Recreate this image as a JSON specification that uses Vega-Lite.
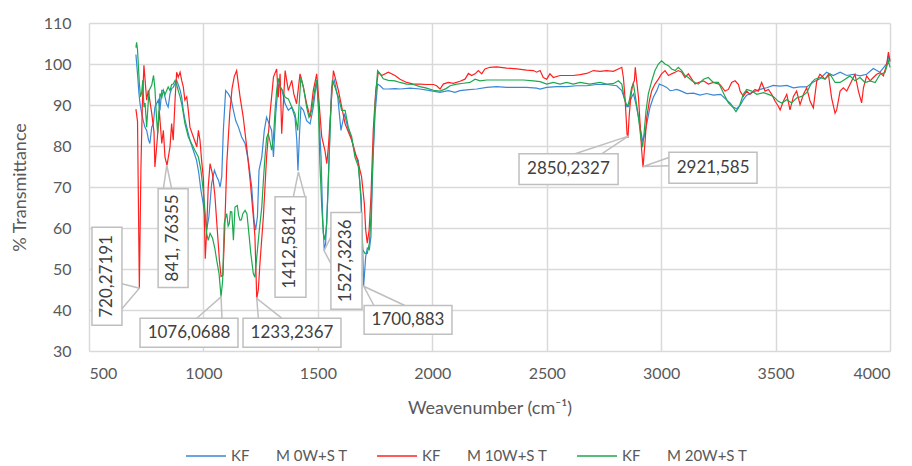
{
  "$schema": "https://vega.github.io/schema/vega-lite/v6.json",
  "autosize": "none",
  "width": 801,
  "height": 328,
  "padding": {"left": 89, "top": 23, "right": 22, "bottom": 115},
  "background": "white",
  "config": {
    "view": {"stroke": null},
    "font": "Lato",
    "axis": {
      "grid": true, "gridColor": "#d9d9d9", "gridWidth": 1.5,
      "domain": false, "ticks": false,
      "labelFont": "Lato", "labelFontSize": 16, "labelColor": "#595959",
      "titleFont": "Lato", "titleFontSize": 18, "titleColor": "#595959", "titleFontWeight": "normal"
    },
    "legend": {"labelFont": "Lato", "labelFontSize": 15, "labelColor": "#595959"}
  },
  "datasets": {
    "spec": [
      {"s":"KF\u00a0\u00a0\u00a0\u00a0 M 0W+S T","wn":705,"t":102.3},{"s":"KF\u00a0\u00a0\u00a0\u00a0 M 0W+S T","wn":712,"t":97.6},{"s":"KF\u00a0\u00a0\u00a0\u00a0 M 0W+S T","wn":718,"t":93},{"s":"KF\u00a0\u00a0\u00a0\u00a0 M 0W+S T","wn":723,"t":90.3},{"s":"KF\u00a0\u00a0\u00a0\u00a0 M 0W+S T","wn":730,"t":88},{"s":"KF\u00a0\u00a0\u00a0\u00a0 M 0W+S T","wn":737,"t":86.2},{"s":"KF\u00a0\u00a0\u00a0\u00a0 M 0W+S T","wn":745,"t":84.5},{"s":"KF\u00a0\u00a0\u00a0\u00a0 M 0W+S T","wn":752,"t":83.8},{"s":"KF\u00a0\u00a0\u00a0\u00a0 M 0W+S T","wn":760,"t":81.5},{"s":"KF\u00a0\u00a0\u00a0\u00a0 M 0W+S T","wn":766,"t":80.6},{"s":"KF\u00a0\u00a0\u00a0\u00a0 M 0W+S T","wn":774,"t":84.6},{"s":"KF\u00a0\u00a0\u00a0\u00a0 M 0W+S T","wn":781,"t":85.4},{"s":"KF\u00a0\u00a0\u00a0\u00a0 M 0W+S T","wn":788,"t":89.5},{"s":"KF\u00a0\u00a0\u00a0\u00a0 M 0W+S T","wn":795,"t":90.3},{"s":"KF\u00a0\u00a0\u00a0\u00a0 M 0W+S T","wn":803,"t":91.2},{"s":"KF\u00a0\u00a0\u00a0\u00a0 M 0W+S T","wn":810,"t":88.7},{"s":"KF\u00a0\u00a0\u00a0\u00a0 M 0W+S T","wn":818,"t":93.6},{"s":"KF\u00a0\u00a0\u00a0\u00a0 M 0W+S T","wn":825,"t":93.5},{"s":"KF\u00a0\u00a0\u00a0\u00a0 M 0W+S T","wn":832,"t":92},{"s":"KF\u00a0\u00a0\u00a0\u00a0 M 0W+S T","wn":839,"t":90.3},{"s":"KF\u00a0\u00a0\u00a0\u00a0 M 0W+S T","wn":846,"t":89.5},{"s":"KF\u00a0\u00a0\u00a0\u00a0 M 0W+S T","wn":854,"t":92.7},{"s":"KF\u00a0\u00a0\u00a0\u00a0 M 0W+S T","wn":861,"t":94},{"s":"KF\u00a0\u00a0\u00a0\u00a0 M 0W+S T","wn":868,"t":94.3},{"s":"KF\u00a0\u00a0\u00a0\u00a0 M 0W+S T","wn":876,"t":95.2},{"s":"KF\u00a0\u00a0\u00a0\u00a0 M 0W+S T","wn":883,"t":96},{"s":"KF\u00a0\u00a0\u00a0\u00a0 M 0W+S T","wn":890,"t":95},{"s":"KF\u00a0\u00a0\u00a0\u00a0 M 0W+S T","wn":898,"t":93.6},{"s":"KF\u00a0\u00a0\u00a0\u00a0 M 0W+S T","wn":905,"t":91.9},{"s":"KF\u00a0\u00a0\u00a0\u00a0 M 0W+S T","wn":912,"t":88.7},{"s":"KF\u00a0\u00a0\u00a0\u00a0 M 0W+S T","wn":919,"t":86.5},{"s":"KF\u00a0\u00a0\u00a0\u00a0 M 0W+S T","wn":927,"t":84.6},{"s":"KF\u00a0\u00a0\u00a0\u00a0 M 0W+S T","wn":934,"t":83},{"s":"KF\u00a0\u00a0\u00a0\u00a0 M 0W+S T","wn":941,"t":81.4},{"s":"KF\u00a0\u00a0\u00a0\u00a0 M 0W+S T","wn":956,"t":78.9},{"s":"KF\u00a0\u00a0\u00a0\u00a0 M 0W+S T","wn":970,"t":76.5},{"s":"KF\u00a0\u00a0\u00a0\u00a0 M 0W+S T","wn":980,"t":73.3},{"s":"KF\u00a0\u00a0\u00a0\u00a0 M 0W+S T","wn":989,"t":69.2},{"s":"KF\u00a0\u00a0\u00a0\u00a0 M 0W+S T","wn":999,"t":66},{"s":"KF\u00a0\u00a0\u00a0\u00a0 M 0W+S T","wn":1007,"t":62.8},{"s":"KF\u00a0\u00a0\u00a0\u00a0 M 0W+S T","wn":1014,"t":59.5},{"s":"KF\u00a0\u00a0\u00a0\u00a0 M 0W+S T","wn":1024,"t":62.8},{"s":"KF\u00a0\u00a0\u00a0\u00a0 M 0W+S T","wn":1036,"t":70.9},{"s":"KF\u00a0\u00a0\u00a0\u00a0 M 0W+S T","wn":1048,"t":74.1},{"s":"KF\u00a0\u00a0\u00a0\u00a0 M 0W+S T","wn":1058,"t":72.5},{"s":"KF\u00a0\u00a0\u00a0\u00a0 M 0W+S T","wn":1066,"t":71.6},{"s":"KF\u00a0\u00a0\u00a0\u00a0 M 0W+S T","wn":1073,"t":70},{"s":"KF\u00a0\u00a0\u00a0\u00a0 M 0W+S T","wn":1080,"t":72.5},{"s":"KF\u00a0\u00a0\u00a0\u00a0 M 0W+S T","wn":1087,"t":83.8},{"s":"KF\u00a0\u00a0\u00a0\u00a0 M 0W+S T","wn":1097,"t":93.5},{"s":"KF\u00a0\u00a0\u00a0\u00a0 M 0W+S T","wn":1109,"t":92.7},{"s":"KF\u00a0\u00a0\u00a0\u00a0 M 0W+S T","wn":1121,"t":91.5},{"s":"KF\u00a0\u00a0\u00a0\u00a0 M 0W+S T","wn":1131,"t":88.7},{"s":"KF\u00a0\u00a0\u00a0\u00a0 M 0W+S T","wn":1141,"t":86.2},{"s":"KF\u00a0\u00a0\u00a0\u00a0 M 0W+S T","wn":1153,"t":84.6},{"s":"KF\u00a0\u00a0\u00a0\u00a0 M 0W+S T","wn":1167,"t":82.2},{"s":"KF\u00a0\u00a0\u00a0\u00a0 M 0W+S T","wn":1182,"t":80.6},{"s":"KF\u00a0\u00a0\u00a0\u00a0 M 0W+S T","wn":1196,"t":76.5},{"s":"KF\u00a0\u00a0\u00a0\u00a0 M 0W+S T","wn":1211,"t":70},{"s":"KF\u00a0\u00a0\u00a0\u00a0 M 0W+S T","wn":1221,"t":61.9},{"s":"KF\u00a0\u00a0\u00a0\u00a0 M 0W+S T","wn":1228,"t":59.5},{"s":"KF\u00a0\u00a0\u00a0\u00a0 M 0W+S T","wn":1236,"t":62.8},{"s":"KF\u00a0\u00a0\u00a0\u00a0 M 0W+S T","wn":1243,"t":74.1},{"s":"KF\u00a0\u00a0\u00a0\u00a0 M 0W+S T","wn":1255,"t":77.3},{"s":"KF\u00a0\u00a0\u00a0\u00a0 M 0W+S T","wn":1266,"t":83.8},{"s":"KF\u00a0\u00a0\u00a0\u00a0 M 0W+S T","wn":1276,"t":87},{"s":"KF\u00a0\u00a0\u00a0\u00a0 M 0W+S T","wn":1287,"t":85.4},{"s":"KF\u00a0\u00a0\u00a0\u00a0 M 0W+S T","wn":1298,"t":83.8},{"s":"KF\u00a0\u00a0\u00a0\u00a0 M 0W+S T","wn":1306,"t":77.3},{"s":"KF\u00a0\u00a0\u00a0\u00a0 M 0W+S T","wn":1316,"t":87.9},{"s":"KF\u00a0\u00a0\u00a0\u00a0 M 0W+S T","wn":1327,"t":95.1},{"s":"KF\u00a0\u00a0\u00a0\u00a0 M 0W+S T","wn":1342,"t":93.9},{"s":"KF\u00a0\u00a0\u00a0\u00a0 M 0W+S T","wn":1357,"t":90.3},{"s":"KF\u00a0\u00a0\u00a0\u00a0 M 0W+S T","wn":1371,"t":88.7},{"s":"KF\u00a0\u00a0\u00a0\u00a0 M 0W+S T","wn":1386,"t":89.5},{"s":"KF\u00a0\u00a0\u00a0\u00a0 M 0W+S T","wn":1400,"t":87},{"s":"KF\u00a0\u00a0\u00a0\u00a0 M 0W+S T","wn":1408,"t":81.4},{"s":"KF\u00a0\u00a0\u00a0\u00a0 M 0W+S T","wn":1413,"t":74},{"s":"KF\u00a0\u00a0\u00a0\u00a0 M 0W+S T","wn":1419,"t":82},{"s":"KF\u00a0\u00a0\u00a0\u00a0 M 0W+S T","wn":1426,"t":89.5},{"s":"KF\u00a0\u00a0\u00a0\u00a0 M 0W+S T","wn":1437,"t":88.7},{"s":"KF\u00a0\u00a0\u00a0\u00a0 M 0W+S T","wn":1451,"t":86.2},{"s":"KF\u00a0\u00a0\u00a0\u00a0 M 0W+S T","wn":1466,"t":85.4},{"s":"KF\u00a0\u00a0\u00a0\u00a0 M 0W+S T","wn":1480,"t":89.5},{"s":"KF\u00a0\u00a0\u00a0\u00a0 M 0W+S T","wn":1495,"t":96},{"s":"KF\u00a0\u00a0\u00a0\u00a0 M 0W+S T","wn":1502,"t":90.3},{"s":"KF\u00a0\u00a0\u00a0\u00a0 M 0W+S T","wn":1514,"t":77.3},{"s":"KF\u00a0\u00a0\u00a0\u00a0 M 0W+S T","wn":1521,"t":62.8},{"s":"KF\u00a0\u00a0\u00a0\u00a0 M 0W+S T","wn":1528,"t":54.5},{"s":"KF\u00a0\u00a0\u00a0\u00a0 M 0W+S T","wn":1534,"t":56.3},{"s":"KF\u00a0\u00a0\u00a0\u00a0 M 0W+S T","wn":1543,"t":67.6},{"s":"KF\u00a0\u00a0\u00a0\u00a0 M 0W+S T","wn":1553,"t":83.8},{"s":"KF\u00a0\u00a0\u00a0\u00a0 M 0W+S T","wn":1560,"t":94.3},{"s":"KF\u00a0\u00a0\u00a0\u00a0 M 0W+S T","wn":1572,"t":96},{"s":"KF\u00a0\u00a0\u00a0\u00a0 M 0W+S T","wn":1587,"t":91.9},{"s":"KF\u00a0\u00a0\u00a0\u00a0 M 0W+S T","wn":1601,"t":83.8},{"s":"KF\u00a0\u00a0\u00a0\u00a0 M 0W+S T","wn":1616,"t":87.9},{"s":"KF\u00a0\u00a0\u00a0\u00a0 M 0W+S T","wn":1630,"t":84.6},{"s":"KF\u00a0\u00a0\u00a0\u00a0 M 0W+S T","wn":1645,"t":82.2},{"s":"KF\u00a0\u00a0\u00a0\u00a0 M 0W+S T","wn":1662,"t":78.1},{"s":"KF\u00a0\u00a0\u00a0\u00a0 M 0W+S T","wn":1677,"t":76.5},{"s":"KF\u00a0\u00a0\u00a0\u00a0 M 0W+S T","wn":1689,"t":66},{"s":"KF\u00a0\u00a0\u00a0\u00a0 M 0W+S T","wn":1696,"t":54.7},{"s":"KF\u00a0\u00a0\u00a0\u00a0 M 0W+S T","wn":1700,"t":45.8},{"s":"KF\u00a0\u00a0\u00a0\u00a0 M 0W+S T","wn":1709,"t":53},{"s":"KF\u00a0\u00a0\u00a0\u00a0 M 0W+S T","wn":1716,"t":55.1},{"s":"KF\u00a0\u00a0\u00a0\u00a0 M 0W+S T","wn":1725,"t":54.7},{"s":"KF\u00a0\u00a0\u00a0\u00a0 M 0W+S T","wn":1732,"t":57.9},{"s":"KF\u00a0\u00a0\u00a0\u00a0 M 0W+S T","wn":1740,"t":75.7},{"s":"KF\u00a0\u00a0\u00a0\u00a0 M 0W+S T","wn":1750,"t":87.9},{"s":"KF\u00a0\u00a0\u00a0\u00a0 M 0W+S T","wn":1761,"t":95.1},{"s":"KF\u00a0\u00a0\u00a0\u00a0 M 0W+S T","wn":1772,"t":94.7},{"s":"KF\u00a0\u00a0\u00a0\u00a0 M 0W+S T","wn":1786,"t":93.9},{"s":"KF\u00a0\u00a0\u00a0\u00a0 M 0W+S T","wn":1808,"t":93.9},{"s":"KF\u00a0\u00a0\u00a0\u00a0 M 0W+S T","wn":1837,"t":94},{"s":"KF\u00a0\u00a0\u00a0\u00a0 M 0W+S T","wn":1859,"t":93.9},{"s":"KF\u00a0\u00a0\u00a0\u00a0 M 0W+S T","wn":1903,"t":94.1},{"s":"KF\u00a0\u00a0\u00a0\u00a0 M 0W+S T","wn":1946,"t":93.9},{"s":"KF\u00a0\u00a0\u00a0\u00a0 M 0W+S T","wn":1990,"t":93.5},{"s":"KF\u00a0\u00a0\u00a0\u00a0 M 0W+S T","wn":2034,"t":93.1},{"s":"KF\u00a0\u00a0\u00a0\u00a0 M 0W+S T","wn":2070,"t":93.5},{"s":"KF\u00a0\u00a0\u00a0\u00a0 M 0W+S T","wn":2099,"t":93.1},{"s":"KF\u00a0\u00a0\u00a0\u00a0 M 0W+S T","wn":2121,"t":93.5},{"s":"KF\u00a0\u00a0\u00a0\u00a0 M 0W+S T","wn":2150,"t":93.7},{"s":"KF\u00a0\u00a0\u00a0\u00a0 M 0W+S T","wn":2194,"t":93.9},{"s":"KF\u00a0\u00a0\u00a0\u00a0 M 0W+S T","wn":2238,"t":94.3},{"s":"KF\u00a0\u00a0\u00a0\u00a0 M 0W+S T","wn":2281,"t":94.5},{"s":"KF\u00a0\u00a0\u00a0\u00a0 M 0W+S T","wn":2325,"t":94.3},{"s":"KF\u00a0\u00a0\u00a0\u00a0 M 0W+S T","wn":2369,"t":94.3},{"s":"KF\u00a0\u00a0\u00a0\u00a0 M 0W+S T","wn":2412,"t":94.3},{"s":"KF\u00a0\u00a0\u00a0\u00a0 M 0W+S T","wn":2456,"t":94.1},{"s":"KF\u00a0\u00a0\u00a0\u00a0 M 0W+S T","wn":2471,"t":93.9},{"s":"KF\u00a0\u00a0\u00a0\u00a0 M 0W+S T","wn":2500,"t":94.3},{"s":"KF\u00a0\u00a0\u00a0\u00a0 M 0W+S T","wn":2544,"t":94.5},{"s":"KF\u00a0\u00a0\u00a0\u00a0 M 0W+S T","wn":2587,"t":94.5},{"s":"KF\u00a0\u00a0\u00a0\u00a0 M 0W+S T","wn":2631,"t":94.7},{"s":"KF\u00a0\u00a0\u00a0\u00a0 M 0W+S T","wn":2675,"t":94.7},{"s":"KF\u00a0\u00a0\u00a0\u00a0 M 0W+S T","wn":2718,"t":95},{"s":"KF\u00a0\u00a0\u00a0\u00a0 M 0W+S T","wn":2762,"t":95},{"s":"KF\u00a0\u00a0\u00a0\u00a0 M 0W+S T","wn":2806,"t":94.7},{"s":"KF\u00a0\u00a0\u00a0\u00a0 M 0W+S T","wn":2828,"t":93.5},{"s":"KF\u00a0\u00a0\u00a0\u00a0 M 0W+S T","wn":2842,"t":91.1},{"s":"KF\u00a0\u00a0\u00a0\u00a0 M 0W+S T","wn":2850,"t":89.6},{"s":"KF\u00a0\u00a0\u00a0\u00a0 M 0W+S T","wn":2857,"t":89.6},{"s":"KF\u00a0\u00a0\u00a0\u00a0 M 0W+S T","wn":2865,"t":91},{"s":"KF\u00a0\u00a0\u00a0\u00a0 M 0W+S T","wn":2871,"t":91.9},{"s":"KF\u00a0\u00a0\u00a0\u00a0 M 0W+S T","wn":2879,"t":92.7},{"s":"KF\u00a0\u00a0\u00a0\u00a0 M 0W+S T","wn":2890,"t":90.2},{"s":"KF\u00a0\u00a0\u00a0\u00a0 M 0W+S T","wn":2901,"t":87},{"s":"KF\u00a0\u00a0\u00a0\u00a0 M 0W+S T","wn":2911,"t":83.7},{"s":"KF\u00a0\u00a0\u00a0\u00a0 M 0W+S T","wn":2919,"t":81.3},{"s":"KF\u00a0\u00a0\u00a0\u00a0 M 0W+S T","wn":2925,"t":82.1},{"s":"KF\u00a0\u00a0\u00a0\u00a0 M 0W+S T","wn":2937,"t":85.4},{"s":"KF\u00a0\u00a0\u00a0\u00a0 M 0W+S T","wn":2951,"t":89.4},{"s":"KF\u00a0\u00a0\u00a0\u00a0 M 0W+S T","wn":2966,"t":91.9},{"s":"KF\u00a0\u00a0\u00a0\u00a0 M 0W+S T","wn":2981,"t":93.5},{"s":"KF\u00a0\u00a0\u00a0\u00a0 M 0W+S T","wn":2992,"t":95.1},{"s":"KF\u00a0\u00a0\u00a0\u00a0 M 0W+S T","wn":3010,"t":94.7},{"s":"KF\u00a0\u00a0\u00a0\u00a0 M 0W+S T","wn":3024,"t":94.3},{"s":"KF\u00a0\u00a0\u00a0\u00a0 M 0W+S T","wn":3039,"t":93.5},{"s":"KF\u00a0\u00a0\u00a0\u00a0 M 0W+S T","wn":3052,"t":93.6},{"s":"KF\u00a0\u00a0\u00a0\u00a0 M 0W+S T","wn":3068,"t":93.8},{"s":"KF\u00a0\u00a0\u00a0\u00a0 M 0W+S T","wn":3083,"t":93.5},{"s":"KF\u00a0\u00a0\u00a0\u00a0 M 0W+S T","wn":3112,"t":92.8},{"s":"KF\u00a0\u00a0\u00a0\u00a0 M 0W+S T","wn":3141,"t":92.9},{"s":"KF\u00a0\u00a0\u00a0\u00a0 M 0W+S T","wn":3170,"t":92.4},{"s":"KF\u00a0\u00a0\u00a0\u00a0 M 0W+S T","wn":3199,"t":92.8},{"s":"KF\u00a0\u00a0\u00a0\u00a0 M 0W+S T","wn":3228,"t":92.4},{"s":"KF\u00a0\u00a0\u00a0\u00a0 M 0W+S T","wn":3260,"t":92.6},{"s":"KF\u00a0\u00a0\u00a0\u00a0 M 0W+S T","wn":3287,"t":91.2},{"s":"KF\u00a0\u00a0\u00a0\u00a0 M 0W+S T","wn":3301,"t":90.5},{"s":"KF\u00a0\u00a0\u00a0\u00a0 M 0W+S T","wn":3315,"t":89.5},{"s":"KF\u00a0\u00a0\u00a0\u00a0 M 0W+S T","wn":3330,"t":89.1},{"s":"KF\u00a0\u00a0\u00a0\u00a0 M 0W+S T","wn":3345,"t":89.9},{"s":"KF\u00a0\u00a0\u00a0\u00a0 M 0W+S T","wn":3359,"t":91.3},{"s":"KF\u00a0\u00a0\u00a0\u00a0 M 0W+S T","wn":3374,"t":92.4},{"s":"KF\u00a0\u00a0\u00a0\u00a0 M 0W+S T","wn":3403,"t":93.2},{"s":"KF\u00a0\u00a0\u00a0\u00a0 M 0W+S T","wn":3432,"t":93.8},{"s":"KF\u00a0\u00a0\u00a0\u00a0 M 0W+S T","wn":3461,"t":94.2},{"s":"KF\u00a0\u00a0\u00a0\u00a0 M 0W+S T","wn":3490,"t":94.8},{"s":"KF\u00a0\u00a0\u00a0\u00a0 M 0W+S T","wn":3519,"t":94.6},{"s":"KF\u00a0\u00a0\u00a0\u00a0 M 0W+S T","wn":3549,"t":94.8},{"s":"KF\u00a0\u00a0\u00a0\u00a0 M 0W+S T","wn":3578,"t":94.2},{"s":"KF\u00a0\u00a0\u00a0\u00a0 M 0W+S T","wn":3607,"t":94.4},{"s":"KF\u00a0\u00a0\u00a0\u00a0 M 0W+S T","wn":3636,"t":94.4},{"s":"KF\u00a0\u00a0\u00a0\u00a0 M 0W+S T","wn":3665,"t":95.6},{"s":"KF\u00a0\u00a0\u00a0\u00a0 M 0W+S T","wn":3694,"t":96.4},{"s":"KF\u00a0\u00a0\u00a0\u00a0 M 0W+S T","wn":3723,"t":98},{"s":"KF\u00a0\u00a0\u00a0\u00a0 M 0W+S T","wn":3752,"t":97.2},{"s":"KF\u00a0\u00a0\u00a0\u00a0 M 0W+S T","wn":3782,"t":98},{"s":"KF\u00a0\u00a0\u00a0\u00a0 M 0W+S T","wn":3811,"t":97.2},{"s":"KF\u00a0\u00a0\u00a0\u00a0 M 0W+S T","wn":3840,"t":97.5},{"s":"KF\u00a0\u00a0\u00a0\u00a0 M 0W+S T","wn":3869,"t":97.1},{"s":"KF\u00a0\u00a0\u00a0\u00a0 M 0W+S T","wn":3898,"t":97.5},{"s":"KF\u00a0\u00a0\u00a0\u00a0 M 0W+S T","wn":3927,"t":98.9},{"s":"KF\u00a0\u00a0\u00a0\u00a0 M 0W+S T","wn":3956,"t":98},{"s":"KF\u00a0\u00a0\u00a0\u00a0 M 0W+S T","wn":3986,"t":100.1},{"s":"KF\u00a0\u00a0\u00a0\u00a0 M 0W+S T","wn":3993,"t":102},{"s":"KF\u00a0\u00a0\u00a0\u00a0 M 0W+S T","wn":4000,"t":100.5},

      {"s":"KF\u00a0\u00a0\u00a0\u00a0 M 10W+S T","wn":705,"t":89},{"s":"KF\u00a0\u00a0\u00a0\u00a0 M 10W+S T","wn":712,"t":86},{"s":"KF\u00a0\u00a0\u00a0\u00a0 M 10W+S T","wn":720,"t":45.3},{"s":"KF\u00a0\u00a0\u00a0\u00a0 M 10W+S T","wn":727,"t":75},{"s":"KF\u00a0\u00a0\u00a0\u00a0 M 10W+S T","wn":733,"t":90},{"s":"KF\u00a0\u00a0\u00a0\u00a0 M 10W+S T","wn":740,"t":99.7},{"s":"KF\u00a0\u00a0\u00a0\u00a0 M 10W+S T","wn":752,"t":91.2},{"s":"KF\u00a0\u00a0\u00a0\u00a0 M 10W+S T","wn":759,"t":93.6},{"s":"KF\u00a0\u00a0\u00a0\u00a0 M 10W+S T","wn":774,"t":88},{"s":"KF\u00a0\u00a0\u00a0\u00a0 M 10W+S T","wn":784,"t":83.4},{"s":"KF\u00a0\u00a0\u00a0\u00a0 M 10W+S T","wn":788,"t":74.9},{"s":"KF\u00a0\u00a0\u00a0\u00a0 M 10W+S T","wn":798,"t":81.4},{"s":"KF\u00a0\u00a0\u00a0\u00a0 M 10W+S T","wn":807,"t":88.7},{"s":"KF\u00a0\u00a0\u00a0\u00a0 M 10W+S T","wn":818,"t":80.6},{"s":"KF\u00a0\u00a0\u00a0\u00a0 M 10W+S T","wn":825,"t":83.8},{"s":"KF\u00a0\u00a0\u00a0\u00a0 M 10W+S T","wn":832,"t":77.3},{"s":"KF\u00a0\u00a0\u00a0\u00a0 M 10W+S T","wn":841,"t":75.3},{"s":"KF\u00a0\u00a0\u00a0\u00a0 M 10W+S T","wn":854,"t":79.8},{"s":"KF\u00a0\u00a0\u00a0\u00a0 M 10W+S T","wn":861,"t":85.5},{"s":"KF\u00a0\u00a0\u00a0\u00a0 M 10W+S T","wn":868,"t":81.4},{"s":"KF\u00a0\u00a0\u00a0\u00a0 M 10W+S T","wn":876,"t":91.2},{"s":"KF\u00a0\u00a0\u00a0\u00a0 M 10W+S T","wn":883,"t":98},{"s":"KF\u00a0\u00a0\u00a0\u00a0 M 10W+S T","wn":890,"t":96.8},{"s":"KF\u00a0\u00a0\u00a0\u00a0 M 10W+S T","wn":898,"t":98},{"s":"KF\u00a0\u00a0\u00a0\u00a0 M 10W+S T","wn":905,"t":96},{"s":"KF\u00a0\u00a0\u00a0\u00a0 M 10W+S T","wn":912,"t":94.4},{"s":"KF\u00a0\u00a0\u00a0\u00a0 M 10W+S T","wn":919,"t":91.2},{"s":"KF\u00a0\u00a0\u00a0\u00a0 M 10W+S T","wn":927,"t":92},{"s":"KF\u00a0\u00a0\u00a0\u00a0 M 10W+S T","wn":934,"t":88.7},{"s":"KF\u00a0\u00a0\u00a0\u00a0 M 10W+S T","wn":941,"t":84.6},{"s":"KF\u00a0\u00a0\u00a0\u00a0 M 10W+S T","wn":956,"t":82.2},{"s":"KF\u00a0\u00a0\u00a0\u00a0 M 10W+S T","wn":971,"t":79.8},{"s":"KF\u00a0\u00a0\u00a0\u00a0 M 10W+S T","wn":978,"t":83.8},{"s":"KF\u00a0\u00a0\u00a0\u00a0 M 10W+S T","wn":985,"t":81.4},{"s":"KF\u00a0\u00a0\u00a0\u00a0 M 10W+S T","wn":992,"t":76.5},{"s":"KF\u00a0\u00a0\u00a0\u00a0 M 10W+S T","wn":1000,"t":72},{"s":"KF\u00a0\u00a0\u00a0\u00a0 M 10W+S T","wn":1005,"t":60},{"s":"KF\u00a0\u00a0\u00a0\u00a0 M 10W+S T","wn":1008,"t":52.5},{"s":"KF\u00a0\u00a0\u00a0\u00a0 M 10W+S T","wn":1013,"t":58},{"s":"KF\u00a0\u00a0\u00a0\u00a0 M 10W+S T","wn":1021,"t":70},{"s":"KF\u00a0\u00a0\u00a0\u00a0 M 10W+S T","wn":1029,"t":75.7},{"s":"KF\u00a0\u00a0\u00a0\u00a0 M 10W+S T","wn":1040,"t":73},{"s":"KF\u00a0\u00a0\u00a0\u00a0 M 10W+S T","wn":1050,"t":68},{"s":"KF\u00a0\u00a0\u00a0\u00a0 M 10W+S T","wn":1060,"t":60},{"s":"KF\u00a0\u00a0\u00a0\u00a0 M 10W+S T","wn":1070,"t":52},{"s":"KF\u00a0\u00a0\u00a0\u00a0 M 10W+S T","wn":1077,"t":48.2},{"s":"KF\u00a0\u00a0\u00a0\u00a0 M 10W+S T","wn":1085,"t":48.5},{"s":"KF\u00a0\u00a0\u00a0\u00a0 M 10W+S T","wn":1092,"t":58},{"s":"KF\u00a0\u00a0\u00a0\u00a0 M 10W+S T","wn":1102,"t":75.7},{"s":"KF\u00a0\u00a0\u00a0\u00a0 M 10W+S T","wn":1115,"t":88},{"s":"KF\u00a0\u00a0\u00a0\u00a0 M 10W+S T","wn":1125,"t":94},{"s":"KF\u00a0\u00a0\u00a0\u00a0 M 10W+S T","wn":1135,"t":97},{"s":"KF\u00a0\u00a0\u00a0\u00a0 M 10W+S T","wn":1145,"t":98.4},{"s":"KF\u00a0\u00a0\u00a0\u00a0 M 10W+S T","wn":1160,"t":92},{"s":"KF\u00a0\u00a0\u00a0\u00a0 M 10W+S T","wn":1174,"t":87},{"s":"KF\u00a0\u00a0\u00a0\u00a0 M 10W+S T","wn":1189,"t":79.8},{"s":"KF\u00a0\u00a0\u00a0\u00a0 M 10W+S T","wn":1204,"t":71.7},{"s":"KF\u00a0\u00a0\u00a0\u00a0 M 10W+S T","wn":1218,"t":62.8},{"s":"KF\u00a0\u00a0\u00a0\u00a0 M 10W+S T","wn":1225,"t":57.9},{"s":"KF\u00a0\u00a0\u00a0\u00a0 M 10W+S T","wn":1233,"t":42.8},{"s":"KF\u00a0\u00a0\u00a0\u00a0 M 10W+S T","wn":1240,"t":45},{"s":"KF\u00a0\u00a0\u00a0\u00a0 M 10W+S T","wn":1247,"t":51.4},{"s":"KF\u00a0\u00a0\u00a0\u00a0 M 10W+S T","wn":1262,"t":62.8},{"s":"KF\u00a0\u00a0\u00a0\u00a0 M 10W+S T","wn":1276,"t":77.3},{"s":"KF\u00a0\u00a0\u00a0\u00a0 M 10W+S T","wn":1291,"t":87.9},{"s":"KF\u00a0\u00a0\u00a0\u00a0 M 10W+S T","wn":1306,"t":96.8},{"s":"KF\u00a0\u00a0\u00a0\u00a0 M 10W+S T","wn":1320,"t":98.8},{"s":"KF\u00a0\u00a0\u00a0\u00a0 M 10W+S T","wn":1327,"t":91.9},{"s":"KF\u00a0\u00a0\u00a0\u00a0 M 10W+S T","wn":1335,"t":97.6},{"s":"KF\u00a0\u00a0\u00a0\u00a0 M 10W+S T","wn":1342,"t":83},{"s":"KF\u00a0\u00a0\u00a0\u00a0 M 10W+S T","wn":1357,"t":98.4},{"s":"KF\u00a0\u00a0\u00a0\u00a0 M 10W+S T","wn":1371,"t":93.5},{"s":"KF\u00a0\u00a0\u00a0\u00a0 M 10W+S T","wn":1386,"t":96},{"s":"KF\u00a0\u00a0\u00a0\u00a0 M 10W+S T","wn":1395,"t":92.7},{"s":"KF\u00a0\u00a0\u00a0\u00a0 M 10W+S T","wn":1407,"t":90.3},{"s":"KF\u00a0\u00a0\u00a0\u00a0 M 10W+S T","wn":1422,"t":97.6},{"s":"KF\u00a0\u00a0\u00a0\u00a0 M 10W+S T","wn":1437,"t":94.3},{"s":"KF\u00a0\u00a0\u00a0\u00a0 M 10W+S T","wn":1451,"t":90.3},{"s":"KF\u00a0\u00a0\u00a0\u00a0 M 10W+S T","wn":1466,"t":87},{"s":"KF\u00a0\u00a0\u00a0\u00a0 M 10W+S T","wn":1480,"t":93.5},{"s":"KF\u00a0\u00a0\u00a0\u00a0 M 10W+S T","wn":1495,"t":97.6},{"s":"KF\u00a0\u00a0\u00a0\u00a0 M 10W+S T","wn":1509,"t":87.9},{"s":"KF\u00a0\u00a0\u00a0\u00a0 M 10W+S T","wn":1517,"t":82.2},{"s":"KF\u00a0\u00a0\u00a0\u00a0 M 10W+S T","wn":1531,"t":78.9},{"s":"KF\u00a0\u00a0\u00a0\u00a0 M 10W+S T","wn":1539,"t":75.7},{"s":"KF\u00a0\u00a0\u00a0\u00a0 M 10W+S T","wn":1546,"t":79.8},{"s":"KF\u00a0\u00a0\u00a0\u00a0 M 10W+S T","wn":1560,"t":91.9},{"s":"KF\u00a0\u00a0\u00a0\u00a0 M 10W+S T","wn":1568,"t":98.4},{"s":"KF\u00a0\u00a0\u00a0\u00a0 M 10W+S T","wn":1590,"t":93.5},{"s":"KF\u00a0\u00a0\u00a0\u00a0 M 10W+S T","wn":1619,"t":85.4},{"s":"KF\u00a0\u00a0\u00a0\u00a0 M 10W+S T","wn":1648,"t":81.4},{"s":"KF\u00a0\u00a0\u00a0\u00a0 M 10W+S T","wn":1677,"t":75.7},{"s":"KF\u00a0\u00a0\u00a0\u00a0 M 10W+S T","wn":1691,"t":72.5},{"s":"KF\u00a0\u00a0\u00a0\u00a0 M 10W+S T","wn":1703,"t":66},{"s":"KF\u00a0\u00a0\u00a0\u00a0 M 10W+S T","wn":1709,"t":59.5},{"s":"KF\u00a0\u00a0\u00a0\u00a0 M 10W+S T","wn":1716,"t":56.3},{"s":"KF\u00a0\u00a0\u00a0\u00a0 M 10W+S T","wn":1724,"t":59.5},{"s":"KF\u00a0\u00a0\u00a0\u00a0 M 10W+S T","wn":1732,"t":67.6},{"s":"KF\u00a0\u00a0\u00a0\u00a0 M 10W+S T","wn":1742,"t":83.8},{"s":"KF\u00a0\u00a0\u00a0\u00a0 M 10W+S T","wn":1753,"t":93.5},{"s":"KF\u00a0\u00a0\u00a0\u00a0 M 10W+S T","wn":1764,"t":98},{"s":"KF\u00a0\u00a0\u00a0\u00a0 M 10W+S T","wn":1779,"t":97.2},{"s":"KF\u00a0\u00a0\u00a0\u00a0 M 10W+S T","wn":1808,"t":98},{"s":"KF\u00a0\u00a0\u00a0\u00a0 M 10W+S T","wn":1837,"t":97.2},{"s":"KF\u00a0\u00a0\u00a0\u00a0 M 10W+S T","wn":1859,"t":96.3},{"s":"KF\u00a0\u00a0\u00a0\u00a0 M 10W+S T","wn":1888,"t":95.5},{"s":"KF\u00a0\u00a0\u00a0\u00a0 M 10W+S T","wn":1917,"t":95.1},{"s":"KF\u00a0\u00a0\u00a0\u00a0 M 10W+S T","wn":1946,"t":95.1},{"s":"KF\u00a0\u00a0\u00a0\u00a0 M 10W+S T","wn":1976,"t":95},{"s":"KF\u00a0\u00a0\u00a0\u00a0 M 10W+S T","wn":2005,"t":95},{"s":"KF\u00a0\u00a0\u00a0\u00a0 M 10W+S T","wn":2019,"t":94.7},{"s":"KF\u00a0\u00a0\u00a0\u00a0 M 10W+S T","wn":2034,"t":93.9},{"s":"KF\u00a0\u00a0\u00a0\u00a0 M 10W+S T","wn":2048,"t":95.1},{"s":"KF\u00a0\u00a0\u00a0\u00a0 M 10W+S T","wn":2070,"t":95.5},{"s":"KF\u00a0\u00a0\u00a0\u00a0 M 10W+S T","wn":2092,"t":95.3},{"s":"KF\u00a0\u00a0\u00a0\u00a0 M 10W+S T","wn":2121,"t":95.8},{"s":"KF\u00a0\u00a0\u00a0\u00a0 M 10W+S T","wn":2143,"t":96.3},{"s":"KF\u00a0\u00a0\u00a0\u00a0 M 10W+S T","wn":2158,"t":97.7},{"s":"KF\u00a0\u00a0\u00a0\u00a0 M 10W+S T","wn":2172,"t":97.2},{"s":"KF\u00a0\u00a0\u00a0\u00a0 M 10W+S T","wn":2187,"t":97.6},{"s":"KF\u00a0\u00a0\u00a0\u00a0 M 10W+S T","wn":2201,"t":98.4},{"s":"KF\u00a0\u00a0\u00a0\u00a0 M 10W+S T","wn":2216,"t":97.6},{"s":"KF\u00a0\u00a0\u00a0\u00a0 M 10W+S T","wn":2230,"t":98.8},{"s":"KF\u00a0\u00a0\u00a0\u00a0 M 10W+S T","wn":2252,"t":99.2},{"s":"KF\u00a0\u00a0\u00a0\u00a0 M 10W+S T","wn":2281,"t":99.3},{"s":"KF\u00a0\u00a0\u00a0\u00a0 M 10W+S T","wn":2325,"t":99},{"s":"KF\u00a0\u00a0\u00a0\u00a0 M 10W+S T","wn":2369,"t":98.8},{"s":"KF\u00a0\u00a0\u00a0\u00a0 M 10W+S T","wn":2412,"t":98.5},{"s":"KF\u00a0\u00a0\u00a0\u00a0 M 10W+S T","wn":2442,"t":98.4},{"s":"KF\u00a0\u00a0\u00a0\u00a0 M 10W+S T","wn":2456,"t":98},{"s":"KF\u00a0\u00a0\u00a0\u00a0 M 10W+S T","wn":2471,"t":98.4},{"s":"KF\u00a0\u00a0\u00a0\u00a0 M 10W+S T","wn":2485,"t":96.7},{"s":"KF\u00a0\u00a0\u00a0\u00a0 M 10W+S T","wn":2500,"t":96.3},{"s":"KF\u00a0\u00a0\u00a0\u00a0 M 10W+S T","wn":2514,"t":97.6},{"s":"KF\u00a0\u00a0\u00a0\u00a0 M 10W+S T","wn":2529,"t":96.7},{"s":"KF\u00a0\u00a0\u00a0\u00a0 M 10W+S T","wn":2558,"t":97.2},{"s":"KF\u00a0\u00a0\u00a0\u00a0 M 10W+S T","wn":2587,"t":97.2},{"s":"KF\u00a0\u00a0\u00a0\u00a0 M 10W+S T","wn":2616,"t":97.2},{"s":"KF\u00a0\u00a0\u00a0\u00a0 M 10W+S T","wn":2646,"t":97.4},{"s":"KF\u00a0\u00a0\u00a0\u00a0 M 10W+S T","wn":2675,"t":97.7},{"s":"KF\u00a0\u00a0\u00a0\u00a0 M 10W+S T","wn":2704,"t":98.4},{"s":"KF\u00a0\u00a0\u00a0\u00a0 M 10W+S T","wn":2733,"t":98.2},{"s":"KF\u00a0\u00a0\u00a0\u00a0 M 10W+S T","wn":2762,"t":98.4},{"s":"KF\u00a0\u00a0\u00a0\u00a0 M 10W+S T","wn":2791,"t":98.2},{"s":"KF\u00a0\u00a0\u00a0\u00a0 M 10W+S T","wn":2813,"t":98.8},{"s":"KF\u00a0\u00a0\u00a0\u00a0 M 10W+S T","wn":2828,"t":99.2},{"s":"KF\u00a0\u00a0\u00a0\u00a0 M 10W+S T","wn":2835,"t":96.7},{"s":"KF\u00a0\u00a0\u00a0\u00a0 M 10W+S T","wn":2842,"t":91.9},{"s":"KF\u00a0\u00a0\u00a0\u00a0 M 10W+S T","wn":2847,"t":87},{"s":"KF\u00a0\u00a0\u00a0\u00a0 M 10W+S T","wn":2851,"t":82.9},{"s":"KF\u00a0\u00a0\u00a0\u00a0 M 10W+S T","wn":2855,"t":82},{"s":"KF\u00a0\u00a0\u00a0\u00a0 M 10W+S T","wn":2860,"t":87},{"s":"KF\u00a0\u00a0\u00a0\u00a0 M 10W+S T","wn":2867,"t":91.9},{"s":"KF\u00a0\u00a0\u00a0\u00a0 M 10W+S T","wn":2876,"t":95.1},{"s":"KF\u00a0\u00a0\u00a0\u00a0 M 10W+S T","wn":2883,"t":95.9},{"s":"KF\u00a0\u00a0\u00a0\u00a0 M 10W+S T","wn":2887,"t":99.2},{"s":"KF\u00a0\u00a0\u00a0\u00a0 M 10W+S T","wn":2893,"t":95.9},{"s":"KF\u00a0\u00a0\u00a0\u00a0 M 10W+S T","wn":2901,"t":91.9},{"s":"KF\u00a0\u00a0\u00a0\u00a0 M 10W+S T","wn":2908,"t":85.4},{"s":"KF\u00a0\u00a0\u00a0\u00a0 M 10W+S T","wn":2915,"t":78.9},{"s":"KF\u00a0\u00a0\u00a0\u00a0 M 10W+S T","wn":2921,"t":74.8},{"s":"KF\u00a0\u00a0\u00a0\u00a0 M 10W+S T","wn":2930,"t":81.3},{"s":"KF\u00a0\u00a0\u00a0\u00a0 M 10W+S T","wn":2937,"t":87},{"s":"KF\u00a0\u00a0\u00a0\u00a0 M 10W+S T","wn":2949,"t":91.1},{"s":"KF\u00a0\u00a0\u00a0\u00a0 M 10W+S T","wn":2959,"t":93.5},{"s":"KF\u00a0\u00a0\u00a0\u00a0 M 10W+S T","wn":2973,"t":95.1},{"s":"KF\u00a0\u00a0\u00a0\u00a0 M 10W+S T","wn":2988,"t":96.3},{"s":"KF\u00a0\u00a0\u00a0\u00a0 M 10W+S T","wn":3002,"t":97.6},{"s":"KF\u00a0\u00a0\u00a0\u00a0 M 10W+S T","wn":3017,"t":98.4},{"s":"KF\u00a0\u00a0\u00a0\u00a0 M 10W+S T","wn":3032,"t":97.2},{"s":"KF\u00a0\u00a0\u00a0\u00a0 M 10W+S T","wn":3046,"t":97.6},{"s":"KF\u00a0\u00a0\u00a0\u00a0 M 10W+S T","wn":3061,"t":98},{"s":"KF\u00a0\u00a0\u00a0\u00a0 M 10W+S T","wn":3075,"t":98.4},{"s":"KF\u00a0\u00a0\u00a0\u00a0 M 10W+S T","wn":3090,"t":98},{"s":"KF\u00a0\u00a0\u00a0\u00a0 M 10W+S T","wn":3104,"t":96.7},{"s":"KF\u00a0\u00a0\u00a0\u00a0 M 10W+S T","wn":3119,"t":97.6},{"s":"KF\u00a0\u00a0\u00a0\u00a0 M 10W+S T","wn":3134,"t":96.3},{"s":"KF\u00a0\u00a0\u00a0\u00a0 M 10W+S T","wn":3148,"t":95.1},{"s":"KF\u00a0\u00a0\u00a0\u00a0 M 10W+S T","wn":3163,"t":95.5},{"s":"KF\u00a0\u00a0\u00a0\u00a0 M 10W+S T","wn":3185,"t":95.9},{"s":"KF\u00a0\u00a0\u00a0\u00a0 M 10W+S T","wn":3206,"t":95.1},{"s":"KF\u00a0\u00a0\u00a0\u00a0 M 10W+S T","wn":3228,"t":95.5},{"s":"KF\u00a0\u00a0\u00a0\u00a0 M 10W+S T","wn":3257,"t":95},{"s":"KF\u00a0\u00a0\u00a0\u00a0 M 10W+S T","wn":3279,"t":93.4},{"s":"KF\u00a0\u00a0\u00a0\u00a0 M 10W+S T","wn":3294,"t":93.8},{"s":"KF\u00a0\u00a0\u00a0\u00a0 M 10W+S T","wn":3308,"t":95.5},{"s":"KF\u00a0\u00a0\u00a0\u00a0 M 10W+S T","wn":3323,"t":95.9},{"s":"KF\u00a0\u00a0\u00a0\u00a0 M 10W+S T","wn":3338,"t":95},{"s":"KF\u00a0\u00a0\u00a0\u00a0 M 10W+S T","wn":3345,"t":93.4},{"s":"KF\u00a0\u00a0\u00a0\u00a0 M 10W+S T","wn":3359,"t":92.1},{"s":"KF\u00a0\u00a0\u00a0\u00a0 M 10W+S T","wn":3374,"t":93.4},{"s":"KF\u00a0\u00a0\u00a0\u00a0 M 10W+S T","wn":3388,"t":92.6},{"s":"KF\u00a0\u00a0\u00a0\u00a0 M 10W+S T","wn":3410,"t":93.8},{"s":"KF\u00a0\u00a0\u00a0\u00a0 M 10W+S T","wn":3425,"t":93.4},{"s":"KF\u00a0\u00a0\u00a0\u00a0 M 10W+S T","wn":3439,"t":95.5},{"s":"KF\u00a0\u00a0\u00a0\u00a0 M 10W+S T","wn":3454,"t":93.4},{"s":"KF\u00a0\u00a0\u00a0\u00a0 M 10W+S T","wn":3469,"t":93.8},{"s":"KF\u00a0\u00a0\u00a0\u00a0 M 10W+S T","wn":3483,"t":92.6},{"s":"KF\u00a0\u00a0\u00a0\u00a0 M 10W+S T","wn":3498,"t":90.9},{"s":"KF\u00a0\u00a0\u00a0\u00a0 M 10W+S T","wn":3512,"t":89.7},{"s":"KF\u00a0\u00a0\u00a0\u00a0 M 10W+S T","wn":3520,"t":88.8},{"s":"KF\u00a0\u00a0\u00a0\u00a0 M 10W+S T","wn":3534,"t":90.9},{"s":"KF\u00a0\u00a0\u00a0\u00a0 M 10W+S T","wn":3549,"t":92.6},{"s":"KF\u00a0\u00a0\u00a0\u00a0 M 10W+S T","wn":3563,"t":88.8},{"s":"KF\u00a0\u00a0\u00a0\u00a0 M 10W+S T","wn":3578,"t":92.1},{"s":"KF\u00a0\u00a0\u00a0\u00a0 M 10W+S T","wn":3592,"t":93.4},{"s":"KF\u00a0\u00a0\u00a0\u00a0 M 10W+S T","wn":3607,"t":90.1},{"s":"KF\u00a0\u00a0\u00a0\u00a0 M 10W+S T","wn":3622,"t":92.6},{"s":"KF\u00a0\u00a0\u00a0\u00a0 M 10W+S T","wn":3636,"t":94.2},{"s":"KF\u00a0\u00a0\u00a0\u00a0 M 10W+S T","wn":3651,"t":90.9},{"s":"KF\u00a0\u00a0\u00a0\u00a0 M 10W+S T","wn":3665,"t":89.3},{"s":"KF\u00a0\u00a0\u00a0\u00a0 M 10W+S T","wn":3680,"t":95.9},{"s":"KF\u00a0\u00a0\u00a0\u00a0 M 10W+S T","wn":3694,"t":97.5},{"s":"KF\u00a0\u00a0\u00a0\u00a0 M 10W+S T","wn":3716,"t":96.3},{"s":"KF\u00a0\u00a0\u00a0\u00a0 M 10W+S T","wn":3731,"t":97.5},{"s":"KF\u00a0\u00a0\u00a0\u00a0 M 10W+S T","wn":3745,"t":91.7},{"s":"KF\u00a0\u00a0\u00a0\u00a0 M 10W+S T","wn":3760,"t":88},{"s":"KF\u00a0\u00a0\u00a0\u00a0 M 10W+S T","wn":3767,"t":88.8},{"s":"KF\u00a0\u00a0\u00a0\u00a0 M 10W+S T","wn":3782,"t":93.4},{"s":"KF\u00a0\u00a0\u00a0\u00a0 M 10W+S T","wn":3796,"t":94.2},{"s":"KF\u00a0\u00a0\u00a0\u00a0 M 10W+S T","wn":3811,"t":93.4},{"s":"KF\u00a0\u00a0\u00a0\u00a0 M 10W+S T","wn":3833,"t":95.9},{"s":"KF\u00a0\u00a0\u00a0\u00a0 M 10W+S T","wn":3847,"t":97.5},{"s":"KF\u00a0\u00a0\u00a0\u00a0 M 10W+S T","wn":3862,"t":93.4},{"s":"KF\u00a0\u00a0\u00a0\u00a0 M 10W+S T","wn":3876,"t":90.5},{"s":"KF\u00a0\u00a0\u00a0\u00a0 M 10W+S T","wn":3884,"t":94.2},{"s":"KF\u00a0\u00a0\u00a0\u00a0 M 10W+S T","wn":3898,"t":97.1},{"s":"KF\u00a0\u00a0\u00a0\u00a0 M 10W+S T","wn":3913,"t":95.9},{"s":"KF\u00a0\u00a0\u00a0\u00a0 M 10W+S T","wn":3927,"t":96.7},{"s":"KF\u00a0\u00a0\u00a0\u00a0 M 10W+S T","wn":3942,"t":97.5},{"s":"KF\u00a0\u00a0\u00a0\u00a0 M 10W+S T","wn":3957,"t":97.9},{"s":"KF\u00a0\u00a0\u00a0\u00a0 M 10W+S T","wn":3971,"t":97.1},{"s":"KF\u00a0\u00a0\u00a0\u00a0 M 10W+S T","wn":3986,"t":100},{"s":"KF\u00a0\u00a0\u00a0\u00a0 M 10W+S T","wn":3993,"t":102.9},{"s":"KF\u00a0\u00a0\u00a0\u00a0 M 10W+S T","wn":4000,"t":100.8},

      {"s":"KF\u00a0\u00a0\u00a0\u00a0 M 20W+S T","wn":705,"t":104},{"s":"KF\u00a0\u00a0\u00a0\u00a0 M 20W+S T","wn":708,"t":105.3},{"s":"KF\u00a0\u00a0\u00a0\u00a0 M 20W+S T","wn":712,"t":103.5},{"s":"KF\u00a0\u00a0\u00a0\u00a0 M 20W+S T","wn":716,"t":99.3},{"s":"KF\u00a0\u00a0\u00a0\u00a0 M 20W+S T","wn":720,"t":95.3},{"s":"KF\u00a0\u00a0\u00a0\u00a0 M 20W+S T","wn":725,"t":92},{"s":"KF\u00a0\u00a0\u00a0\u00a0 M 20W+S T","wn":730,"t":93},{"s":"KF\u00a0\u00a0\u00a0\u00a0 M 20W+S T","wn":735,"t":96},{"s":"KF\u00a0\u00a0\u00a0\u00a0 M 20W+S T","wn":740,"t":89.5},{"s":"KF\u00a0\u00a0\u00a0\u00a0 M 20W+S T","wn":745,"t":90.5},{"s":"KF\u00a0\u00a0\u00a0\u00a0 M 20W+S T","wn":752,"t":84.6},{"s":"KF\u00a0\u00a0\u00a0\u00a0 M 20W+S T","wn":758,"t":90},{"s":"KF\u00a0\u00a0\u00a0\u00a0 M 20W+S T","wn":763,"t":93.6},{"s":"KF\u00a0\u00a0\u00a0\u00a0 M 20W+S T","wn":774,"t":94.8},{"s":"KF\u00a0\u00a0\u00a0\u00a0 M 20W+S T","wn":782,"t":97.2},{"s":"KF\u00a0\u00a0\u00a0\u00a0 M 20W+S T","wn":788,"t":94},{"s":"KF\u00a0\u00a0\u00a0\u00a0 M 20W+S T","wn":795,"t":87},{"s":"KF\u00a0\u00a0\u00a0\u00a0 M 20W+S T","wn":800,"t":83},{"s":"KF\u00a0\u00a0\u00a0\u00a0 M 20W+S T","wn":810,"t":92.8},{"s":"KF\u00a0\u00a0\u00a0\u00a0 M 20W+S T","wn":818,"t":91.8},{"s":"KF\u00a0\u00a0\u00a0\u00a0 M 20W+S T","wn":825,"t":93.6},{"s":"KF\u00a0\u00a0\u00a0\u00a0 M 20W+S T","wn":832,"t":92.5},{"s":"KF\u00a0\u00a0\u00a0\u00a0 M 20W+S T","wn":839,"t":93.5},{"s":"KF\u00a0\u00a0\u00a0\u00a0 M 20W+S T","wn":846,"t":94.4},{"s":"KF\u00a0\u00a0\u00a0\u00a0 M 20W+S T","wn":854,"t":93.5},{"s":"KF\u00a0\u00a0\u00a0\u00a0 M 20W+S T","wn":861,"t":95},{"s":"KF\u00a0\u00a0\u00a0\u00a0 M 20W+S T","wn":868,"t":95.1},{"s":"KF\u00a0\u00a0\u00a0\u00a0 M 20W+S T","wn":876,"t":96},{"s":"KF\u00a0\u00a0\u00a0\u00a0 M 20W+S T","wn":883,"t":95},{"s":"KF\u00a0\u00a0\u00a0\u00a0 M 20W+S T","wn":890,"t":93.5},{"s":"KF\u00a0\u00a0\u00a0\u00a0 M 20W+S T","wn":898,"t":92},{"s":"KF\u00a0\u00a0\u00a0\u00a0 M 20W+S T","wn":905,"t":90.3},{"s":"KF\u00a0\u00a0\u00a0\u00a0 M 20W+S T","wn":912,"t":88},{"s":"KF\u00a0\u00a0\u00a0\u00a0 M 20W+S T","wn":919,"t":85.5},{"s":"KF\u00a0\u00a0\u00a0\u00a0 M 20W+S T","wn":934,"t":82.2},{"s":"KF\u00a0\u00a0\u00a0\u00a0 M 20W+S T","wn":948,"t":80.6},{"s":"KF\u00a0\u00a0\u00a0\u00a0 M 20W+S T","wn":963,"t":78.9},{"s":"KF\u00a0\u00a0\u00a0\u00a0 M 20W+S T","wn":978,"t":77.3},{"s":"KF\u00a0\u00a0\u00a0\u00a0 M 20W+S T","wn":989,"t":74.1},{"s":"KF\u00a0\u00a0\u00a0\u00a0 M 20W+S T","wn":999,"t":69.2},{"s":"KF\u00a0\u00a0\u00a0\u00a0 M 20W+S T","wn":1007,"t":64},{"s":"KF\u00a0\u00a0\u00a0\u00a0 M 20W+S T","wn":1014,"t":58.7},{"s":"KF\u00a0\u00a0\u00a0\u00a0 M 20W+S T","wn":1021,"t":57},{"s":"KF\u00a0\u00a0\u00a0\u00a0 M 20W+S T","wn":1029,"t":58.7},{"s":"KF\u00a0\u00a0\u00a0\u00a0 M 20W+S T","wn":1040,"t":57.5},{"s":"KF\u00a0\u00a0\u00a0\u00a0 M 20W+S T","wn":1050,"t":55},{"s":"KF\u00a0\u00a0\u00a0\u00a0 M 20W+S T","wn":1058,"t":52.1},{"s":"KF\u00a0\u00a0\u00a0\u00a0 M 20W+S T","wn":1068,"t":49},{"s":"KF\u00a0\u00a0\u00a0\u00a0 M 20W+S T","wn":1077,"t":43.2},{"s":"KF\u00a0\u00a0\u00a0\u00a0 M 20W+S T","wn":1084,"t":47.2},{"s":"KF\u00a0\u00a0\u00a0\u00a0 M 20W+S T","wn":1091,"t":61},{"s":"KF\u00a0\u00a0\u00a0\u00a0 M 20W+S T","wn":1094,"t":62},{"s":"KF\u00a0\u00a0\u00a0\u00a0 M 20W+S T","wn":1102,"t":63.5},{"s":"KF\u00a0\u00a0\u00a0\u00a0 M 20W+S T","wn":1108,"t":60.5},{"s":"KF\u00a0\u00a0\u00a0\u00a0 M 20W+S T","wn":1113,"t":61.1},{"s":"KF\u00a0\u00a0\u00a0\u00a0 M 20W+S T","wn":1118,"t":64},{"s":"KF\u00a0\u00a0\u00a0\u00a0 M 20W+S T","wn":1124,"t":63.9},{"s":"KF\u00a0\u00a0\u00a0\u00a0 M 20W+S T","wn":1131,"t":57},{"s":"KF\u00a0\u00a0\u00a0\u00a0 M 20W+S T","wn":1138,"t":65.1},{"s":"KF\u00a0\u00a0\u00a0\u00a0 M 20W+S T","wn":1148,"t":65.5},{"s":"KF\u00a0\u00a0\u00a0\u00a0 M 20W+S T","wn":1154,"t":63},{"s":"KF\u00a0\u00a0\u00a0\u00a0 M 20W+S T","wn":1160,"t":61.9},{"s":"KF\u00a0\u00a0\u00a0\u00a0 M 20W+S T","wn":1166,"t":62},{"s":"KF\u00a0\u00a0\u00a0\u00a0 M 20W+S T","wn":1172,"t":63.5},{"s":"KF\u00a0\u00a0\u00a0\u00a0 M 20W+S T","wn":1182,"t":64.3},{"s":"KF\u00a0\u00a0\u00a0\u00a0 M 20W+S T","wn":1190,"t":63.5},{"s":"KF\u00a0\u00a0\u00a0\u00a0 M 20W+S T","wn":1196,"t":60.2},{"s":"KF\u00a0\u00a0\u00a0\u00a0 M 20W+S T","wn":1207,"t":53.8},{"s":"KF\u00a0\u00a0\u00a0\u00a0 M 20W+S T","wn":1218,"t":48.9},{"s":"KF\u00a0\u00a0\u00a0\u00a0 M 20W+S T","wn":1225,"t":48},{"s":"KF\u00a0\u00a0\u00a0\u00a0 M 20W+S T","wn":1233,"t":52.9},{"s":"KF\u00a0\u00a0\u00a0\u00a0 M 20W+S T","wn":1244,"t":59.4},{"s":"KF\u00a0\u00a0\u00a0\u00a0 M 20W+S T","wn":1255,"t":65.1},{"s":"KF\u00a0\u00a0\u00a0\u00a0 M 20W+S T","wn":1262,"t":71.6},{"s":"KF\u00a0\u00a0\u00a0\u00a0 M 20W+S T","wn":1269,"t":77.3},{"s":"KF\u00a0\u00a0\u00a0\u00a0 M 20W+S T","wn":1276,"t":82},{"s":"KF\u00a0\u00a0\u00a0\u00a0 M 20W+S T","wn":1283,"t":83},{"s":"KF\u00a0\u00a0\u00a0\u00a0 M 20W+S T","wn":1290,"t":81.4},{"s":"KF\u00a0\u00a0\u00a0\u00a0 M 20W+S T","wn":1298,"t":79},{"s":"KF\u00a0\u00a0\u00a0\u00a0 M 20W+S T","wn":1306,"t":82},{"s":"KF\u00a0\u00a0\u00a0\u00a0 M 20W+S T","wn":1313,"t":88.7},{"s":"KF\u00a0\u00a0\u00a0\u00a0 M 20W+S T","wn":1320,"t":93.6},{"s":"KF\u00a0\u00a0\u00a0\u00a0 M 20W+S T","wn":1327,"t":96.5},{"s":"KF\u00a0\u00a0\u00a0\u00a0 M 20W+S T","wn":1335,"t":94.4},{"s":"KF\u00a0\u00a0\u00a0\u00a0 M 20W+S T","wn":1345,"t":93.6},{"s":"KF\u00a0\u00a0\u00a0\u00a0 M 20W+S T","wn":1357,"t":91.9},{"s":"KF\u00a0\u00a0\u00a0\u00a0 M 20W+S T","wn":1371,"t":91.5},{"s":"KF\u00a0\u00a0\u00a0\u00a0 M 20W+S T","wn":1386,"t":89.5},{"s":"KF\u00a0\u00a0\u00a0\u00a0 M 20W+S T","wn":1400,"t":87.9},{"s":"KF\u00a0\u00a0\u00a0\u00a0 M 20W+S T","wn":1412,"t":83.8},{"s":"KF\u00a0\u00a0\u00a0\u00a0 M 20W+S T","wn":1418,"t":90},{"s":"KF\u00a0\u00a0\u00a0\u00a0 M 20W+S T","wn":1426,"t":96.8},{"s":"KF\u00a0\u00a0\u00a0\u00a0 M 20W+S T","wn":1437,"t":94.3},{"s":"KF\u00a0\u00a0\u00a0\u00a0 M 20W+S T","wn":1451,"t":89.5},{"s":"KF\u00a0\u00a0\u00a0\u00a0 M 20W+S T","wn":1461,"t":87},{"s":"KF\u00a0\u00a0\u00a0\u00a0 M 20W+S T","wn":1473,"t":88.7},{"s":"KF\u00a0\u00a0\u00a0\u00a0 M 20W+S T","wn":1488,"t":94.3},{"s":"KF\u00a0\u00a0\u00a0\u00a0 M 20W+S T","wn":1495,"t":96},{"s":"KF\u00a0\u00a0\u00a0\u00a0 M 20W+S T","wn":1502,"t":90.3},{"s":"KF\u00a0\u00a0\u00a0\u00a0 M 20W+S T","wn":1509,"t":75.7},{"s":"KF\u00a0\u00a0\u00a0\u00a0 M 20W+S T","wn":1517,"t":65.2},{"s":"KF\u00a0\u00a0\u00a0\u00a0 M 20W+S T","wn":1524,"t":58.7},{"s":"KF\u00a0\u00a0\u00a0\u00a0 M 20W+S T","wn":1531,"t":57.1},{"s":"KF\u00a0\u00a0\u00a0\u00a0 M 20W+S T","wn":1539,"t":61.1},{"s":"KF\u00a0\u00a0\u00a0\u00a0 M 20W+S T","wn":1546,"t":71.7},{"s":"KF\u00a0\u00a0\u00a0\u00a0 M 20W+S T","wn":1556,"t":87.9},{"s":"KF\u00a0\u00a0\u00a0\u00a0 M 20W+S T","wn":1563,"t":96},{"s":"KF\u00a0\u00a0\u00a0\u00a0 M 20W+S T","wn":1575,"t":94.3},{"s":"KF\u00a0\u00a0\u00a0\u00a0 M 20W+S T","wn":1590,"t":91.9},{"s":"KF\u00a0\u00a0\u00a0\u00a0 M 20W+S T","wn":1604,"t":88.7},{"s":"KF\u00a0\u00a0\u00a0\u00a0 M 20W+S T","wn":1619,"t":88.7},{"s":"KF\u00a0\u00a0\u00a0\u00a0 M 20W+S T","wn":1633,"t":84.6},{"s":"KF\u00a0\u00a0\u00a0\u00a0 M 20W+S T","wn":1648,"t":82.2},{"s":"KF\u00a0\u00a0\u00a0\u00a0 M 20W+S T","wn":1662,"t":77.3},{"s":"KF\u00a0\u00a0\u00a0\u00a0 M 20W+S T","wn":1677,"t":74.9},{"s":"KF\u00a0\u00a0\u00a0\u00a0 M 20W+S T","wn":1689,"t":67.6},{"s":"KF\u00a0\u00a0\u00a0\u00a0 M 20W+S T","wn":1696,"t":54.7},{"s":"KF\u00a0\u00a0\u00a0\u00a0 M 20W+S T","wn":1706,"t":53.8},{"s":"KF\u00a0\u00a0\u00a0\u00a0 M 20W+S T","wn":1716,"t":53.8},{"s":"KF\u00a0\u00a0\u00a0\u00a0 M 20W+S T","wn":1725,"t":56.3},{"s":"KF\u00a0\u00a0\u00a0\u00a0 M 20W+S T","wn":1732,"t":62.8},{"s":"KF\u00a0\u00a0\u00a0\u00a0 M 20W+S T","wn":1740,"t":75.7},{"s":"KF\u00a0\u00a0\u00a0\u00a0 M 20W+S T","wn":1750,"t":90.3},{"s":"KF\u00a0\u00a0\u00a0\u00a0 M 20W+S T","wn":1761,"t":98.4},{"s":"KF\u00a0\u00a0\u00a0\u00a0 M 20W+S T","wn":1772,"t":97.6},{"s":"KF\u00a0\u00a0\u00a0\u00a0 M 20W+S T","wn":1786,"t":96.4},{"s":"KF\u00a0\u00a0\u00a0\u00a0 M 20W+S T","wn":1808,"t":96},{"s":"KF\u00a0\u00a0\u00a0\u00a0 M 20W+S T","wn":1837,"t":95.9},{"s":"KF\u00a0\u00a0\u00a0\u00a0 M 20W+S T","wn":1859,"t":95.5},{"s":"KF\u00a0\u00a0\u00a0\u00a0 M 20W+S T","wn":1888,"t":95.1},{"s":"KF\u00a0\u00a0\u00a0\u00a0 M 20W+S T","wn":1917,"t":95},{"s":"KF\u00a0\u00a0\u00a0\u00a0 M 20W+S T","wn":1946,"t":94.5},{"s":"KF\u00a0\u00a0\u00a0\u00a0 M 20W+S T","wn":1975,"t":94.1},{"s":"KF\u00a0\u00a0\u00a0\u00a0 M 20W+S T","wn":2005,"t":93.6},{"s":"KF\u00a0\u00a0\u00a0\u00a0 M 20W+S T","wn":2034,"t":93.4},{"s":"KF\u00a0\u00a0\u00a0\u00a0 M 20W+S T","wn":2060,"t":94},{"s":"KF\u00a0\u00a0\u00a0\u00a0 M 20W+S T","wn":2078,"t":94.7},{"s":"KF\u00a0\u00a0\u00a0\u00a0 M 20W+S T","wn":2107,"t":95.1},{"s":"KF\u00a0\u00a0\u00a0\u00a0 M 20W+S T","wn":2136,"t":95.3},{"s":"KF\u00a0\u00a0\u00a0\u00a0 M 20W+S T","wn":2165,"t":95.5},{"s":"KF\u00a0\u00a0\u00a0\u00a0 M 20W+S T","wn":2187,"t":96.3},{"s":"KF\u00a0\u00a0\u00a0\u00a0 M 20W+S T","wn":2209,"t":95.9},{"s":"KF\u00a0\u00a0\u00a0\u00a0 M 20W+S T","wn":2238,"t":96.1},{"s":"KF\u00a0\u00a0\u00a0\u00a0 M 20W+S T","wn":2281,"t":96.1},{"s":"KF\u00a0\u00a0\u00a0\u00a0 M 20W+S T","wn":2340,"t":96.1},{"s":"KF\u00a0\u00a0\u00a0\u00a0 M 20W+S T","wn":2398,"t":96.1},{"s":"KF\u00a0\u00a0\u00a0\u00a0 M 20W+S T","wn":2442,"t":95.9},{"s":"KF\u00a0\u00a0\u00a0\u00a0 M 20W+S T","wn":2471,"t":95.7},{"s":"KF\u00a0\u00a0\u00a0\u00a0 M 20W+S T","wn":2500,"t":95.1},{"s":"KF\u00a0\u00a0\u00a0\u00a0 M 20W+S T","wn":2529,"t":95.5},{"s":"KF\u00a0\u00a0\u00a0\u00a0 M 20W+S T","wn":2558,"t":95.1},{"s":"KF\u00a0\u00a0\u00a0\u00a0 M 20W+S T","wn":2587,"t":95.5},{"s":"KF\u00a0\u00a0\u00a0\u00a0 M 20W+S T","wn":2616,"t":95.1},{"s":"KF\u00a0\u00a0\u00a0\u00a0 M 20W+S T","wn":2646,"t":95.5},{"s":"KF\u00a0\u00a0\u00a0\u00a0 M 20W+S T","wn":2689,"t":95.1},{"s":"KF\u00a0\u00a0\u00a0\u00a0 M 20W+S T","wn":2733,"t":95.5},{"s":"KF\u00a0\u00a0\u00a0\u00a0 M 20W+S T","wn":2762,"t":95.1},{"s":"KF\u00a0\u00a0\u00a0\u00a0 M 20W+S T","wn":2791,"t":95.2},{"s":"KF\u00a0\u00a0\u00a0\u00a0 M 20W+S T","wn":2813,"t":95.9},{"s":"KF\u00a0\u00a0\u00a0\u00a0 M 20W+S T","wn":2828,"t":95.1},{"s":"KF\u00a0\u00a0\u00a0\u00a0 M 20W+S T","wn":2838,"t":91.9},{"s":"KF\u00a0\u00a0\u00a0\u00a0 M 20W+S T","wn":2847,"t":90.2},{"s":"KF\u00a0\u00a0\u00a0\u00a0 M 20W+S T","wn":2854,"t":89.8},{"s":"KF\u00a0\u00a0\u00a0\u00a0 M 20W+S T","wn":2861,"t":91.1},{"s":"KF\u00a0\u00a0\u00a0\u00a0 M 20W+S T","wn":2871,"t":94.3},{"s":"KF\u00a0\u00a0\u00a0\u00a0 M 20W+S T","wn":2879,"t":95.1},{"s":"KF\u00a0\u00a0\u00a0\u00a0 M 20W+S T","wn":2890,"t":91.1},{"s":"KF\u00a0\u00a0\u00a0\u00a0 M 20W+S T","wn":2901,"t":87},{"s":"KF\u00a0\u00a0\u00a0\u00a0 M 20W+S T","wn":2911,"t":82.1},{"s":"KF\u00a0\u00a0\u00a0\u00a0 M 20W+S T","wn":2919,"t":79.7},{"s":"KF\u00a0\u00a0\u00a0\u00a0 M 20W+S T","wn":2925,"t":82.9},{"s":"KF\u00a0\u00a0\u00a0\u00a0 M 20W+S T","wn":2934,"t":88.6},{"s":"KF\u00a0\u00a0\u00a0\u00a0 M 20W+S T","wn":2944,"t":92.7},{"s":"KF\u00a0\u00a0\u00a0\u00a0 M 20W+S T","wn":2959,"t":95.9},{"s":"KF\u00a0\u00a0\u00a0\u00a0 M 20W+S T","wn":2973,"t":98.4},{"s":"KF\u00a0\u00a0\u00a0\u00a0 M 20W+S T","wn":2988,"t":100},{"s":"KF\u00a0\u00a0\u00a0\u00a0 M 20W+S T","wn":3002,"t":100.8},{"s":"KF\u00a0\u00a0\u00a0\u00a0 M 20W+S T","wn":3017,"t":100},{"s":"KF\u00a0\u00a0\u00a0\u00a0 M 20W+S T","wn":3032,"t":99.6},{"s":"KF\u00a0\u00a0\u00a0\u00a0 M 20W+S T","wn":3046,"t":98.8},{"s":"KF\u00a0\u00a0\u00a0\u00a0 M 20W+S T","wn":3061,"t":98.4},{"s":"KF\u00a0\u00a0\u00a0\u00a0 M 20W+S T","wn":3075,"t":99.2},{"s":"KF\u00a0\u00a0\u00a0\u00a0 M 20W+S T","wn":3090,"t":98.4},{"s":"KF\u00a0\u00a0\u00a0\u00a0 M 20W+S T","wn":3104,"t":97.2},{"s":"KF\u00a0\u00a0\u00a0\u00a0 M 20W+S T","wn":3119,"t":96.7},{"s":"KF\u00a0\u00a0\u00a0\u00a0 M 20W+S T","wn":3134,"t":95.9},{"s":"KF\u00a0\u00a0\u00a0\u00a0 M 20W+S T","wn":3148,"t":95.5},{"s":"KF\u00a0\u00a0\u00a0\u00a0 M 20W+S T","wn":3163,"t":95.1},{"s":"KF\u00a0\u00a0\u00a0\u00a0 M 20W+S T","wn":3185,"t":96.3},{"s":"KF\u00a0\u00a0\u00a0\u00a0 M 20W+S T","wn":3206,"t":96.7},{"s":"KF\u00a0\u00a0\u00a0\u00a0 M 20W+S T","wn":3228,"t":95.5},{"s":"KF\u00a0\u00a0\u00a0\u00a0 M 20W+S T","wn":3250,"t":95.5},{"s":"KF\u00a0\u00a0\u00a0\u00a0 M 20W+S T","wn":3265,"t":93.8},{"s":"KF\u00a0\u00a0\u00a0\u00a0 M 20W+S T","wn":3279,"t":92.1},{"s":"KF\u00a0\u00a0\u00a0\u00a0 M 20W+S T","wn":3294,"t":90.5},{"s":"KF\u00a0\u00a0\u00a0\u00a0 M 20W+S T","wn":3316,"t":89.3},{"s":"KF\u00a0\u00a0\u00a0\u00a0 M 20W+S T","wn":3327,"t":88.4},{"s":"KF\u00a0\u00a0\u00a0\u00a0 M 20W+S T","wn":3342,"t":89.7},{"s":"KF\u00a0\u00a0\u00a0\u00a0 M 20W+S T","wn":3359,"t":92.6},{"s":"KF\u00a0\u00a0\u00a0\u00a0 M 20W+S T","wn":3374,"t":93.8},{"s":"KF\u00a0\u00a0\u00a0\u00a0 M 20W+S T","wn":3396,"t":93.4},{"s":"KF\u00a0\u00a0\u00a0\u00a0 M 20W+S T","wn":3418,"t":92.6},{"s":"KF\u00a0\u00a0\u00a0\u00a0 M 20W+S T","wn":3447,"t":93},{"s":"KF\u00a0\u00a0\u00a0\u00a0 M 20W+S T","wn":3469,"t":92.6},{"s":"KF\u00a0\u00a0\u00a0\u00a0 M 20W+S T","wn":3490,"t":92.1},{"s":"KF\u00a0\u00a0\u00a0\u00a0 M 20W+S T","wn":3512,"t":90.9},{"s":"KF\u00a0\u00a0\u00a0\u00a0 M 20W+S T","wn":3527,"t":90.5},{"s":"KF\u00a0\u00a0\u00a0\u00a0 M 20W+S T","wn":3549,"t":91.3},{"s":"KF\u00a0\u00a0\u00a0\u00a0 M 20W+S T","wn":3570,"t":90.5},{"s":"KF\u00a0\u00a0\u00a0\u00a0 M 20W+S T","wn":3592,"t":91.7},{"s":"KF\u00a0\u00a0\u00a0\u00a0 M 20W+S T","wn":3614,"t":92.1},{"s":"KF\u00a0\u00a0\u00a0\u00a0 M 20W+S T","wn":3636,"t":93},{"s":"KF\u00a0\u00a0\u00a0\u00a0 M 20W+S T","wn":3658,"t":95.5},{"s":"KF\u00a0\u00a0\u00a0\u00a0 M 20W+S T","wn":3672,"t":96.3},{"s":"KF\u00a0\u00a0\u00a0\u00a0 M 20W+S T","wn":3694,"t":96.7},{"s":"KF\u00a0\u00a0\u00a0\u00a0 M 20W+S T","wn":3716,"t":96.3},{"s":"KF\u00a0\u00a0\u00a0\u00a0 M 20W+S T","wn":3738,"t":97.5},{"s":"KF\u00a0\u00a0\u00a0\u00a0 M 20W+S T","wn":3760,"t":95.5},{"s":"KF\u00a0\u00a0\u00a0\u00a0 M 20W+S T","wn":3782,"t":95.5},{"s":"KF\u00a0\u00a0\u00a0\u00a0 M 20W+S T","wn":3804,"t":96.3},{"s":"KF\u00a0\u00a0\u00a0\u00a0 M 20W+S T","wn":3825,"t":97.1},{"s":"KF\u00a0\u00a0\u00a0\u00a0 M 20W+S T","wn":3847,"t":95.9},{"s":"KF\u00a0\u00a0\u00a0\u00a0 M 20W+S T","wn":3869,"t":96.7},{"s":"KF\u00a0\u00a0\u00a0\u00a0 M 20W+S T","wn":3891,"t":95.5},{"s":"KF\u00a0\u00a0\u00a0\u00a0 M 20W+S T","wn":3913,"t":95.9},{"s":"KF\u00a0\u00a0\u00a0\u00a0 M 20W+S T","wn":3935,"t":95.5},{"s":"KF\u00a0\u00a0\u00a0\u00a0 M 20W+S T","wn":3957,"t":97.5},{"s":"KF\u00a0\u00a0\u00a0\u00a0 M 20W+S T","wn":3978,"t":97.9},{"s":"KF\u00a0\u00a0\u00a0\u00a0 M 20W+S T","wn":3993,"t":100.8},{"s":"KF\u00a0\u00a0\u00a0\u00a0 M 20W+S T","wn":4000,"t":99.2}
    ],
    "wedges": [
      {"id":1,"k":1,"wn":644,"t":46.4},{"id":1,"k":2,"wn":720,"t":45.3},{"id":1,"k":3,"wn":644,"t":40.3},
      {"id":2,"k":1,"wn":825,"t":69.6},{"id":2,"k":2,"wn":840,"t":75.3},{"id":2,"k":3,"wn":861,"t":69.6},
      {"id":3,"k":1,"wn":971,"t":38.0},{"id":3,"k":2,"wn":1077,"t":43.2},{"id":3,"k":3,"wn":1081,"t":38.0},
      {"id":4,"k":1,"wn":1240,"t":38.0},{"id":4,"k":2,"wn":1233,"t":42.8},{"id":4,"k":3,"wn":1342,"t":38.0},
      {"id":5,"k":1,"wn":1393,"t":67.6},{"id":5,"k":2,"wn":1415,"t":73.7},{"id":5,"k":3,"wn":1444,"t":67.6},
      {"id":6,"k":1,"wn":1557,"t":57.8},{"id":6,"k":2,"wn":1527,"t":54.5},{"id":6,"k":3,"wn":1557,"t":51.3},
      {"id":7,"k":1,"wn":1745,"t":41.1},{"id":7,"k":2,"wn":1700,"t":45.8},{"id":7,"k":3,"wn":1880,"t":41.1},
      {"id":8,"k":1,"wn":2624,"t":78.1},{"id":8,"k":2,"wn":2857,"t":82.4},{"id":8,"k":3,"wn":2740,"t":78.1},
      {"id":9,"k":1,"wn":3034,"t":77.2},{"id":9,"k":2,"wn":2922,"t":75.0},{"id":9,"k":3,"wn":3034,"t":75.2}
    ],
    "notes": [
      {"label":"720,27191","dir":"v","x1":513,"x2":644,"y1":36.3,"y2":60.2,"tx":579,"ty":48.2},
      {"label":"841, 76355","dir":"v","x1":802,"x2":933,"y1":45.5,"y2":69.6,"tx":867,"ty":57.6},
      {"label":"1076,0688","dir":"h","x1":723,"x2":1151,"y1":30.9,"y2":38.0,"tx":937,"ty":34.4},
      {"label":"1233,2367","dir":"h","x1":1173,"x2":1601,"y1":30.9,"y2":38.0,"tx":1387,"ty":34.4},
      {"label":"1412,5814","dir":"v","x1":1313,"x2":1448,"y1":43.1,"y2":67.6,"tx":1380,"ty":55.3},
      {"label":"1527,3236","dir":"v","x1":1557,"x2":1693,"y1":40.2,"y2":63.8,"tx":1625,"ty":52.0},
      {"label":"1700,883","dir":"h","x1":1702,"x2":2086,"y1":34.1,"y2":41.1,"tx":1894,"ty":37.6},
      {"label":"2850,2327","dir":"h","x1":2379,"x2":2812,"y1":70.6,"y2":78.1,"tx":2595,"ty":74.4},
      {"label":"2921,585","dir":"h","x1":3034,"x2":3419,"y1":70.9,"y2":78.5,"tx":3227,"ty":74.7}
    ]
  },
  "layer": [
    {
      "data": {"name": "spec"},
      "mark": {"type": "line", "strokeWidth": 1.2, "interpolate": "linear"},
      "encoding": {
        "x": {"field": "wn", "type": "quantitative",
          "scale": {"domain": [500, 4000], "nice": false, "zero": false},
          "axis": {"values": [500,1000,1500,2000,2500,3000,3500,4000], "format": "d", "title": "Weavenumber (cm\u207b\u00b9)", "labelPadding": 14, "titlePadding": 18}},
        "y": {"field": "t", "type": "quantitative",
          "scale": {"domain": [30, 110], "nice": false, "zero": false},
          "axis": {"values": [30,40,50,60,70,80,90,100,110], "format": "d", "title": "% Transmittance", "labelPadding": 18, "titlePadding": 14}},
        "color": {"field": "s", "type": "nominal",
          "scale": {"domain": ["KF\u00a0\u00a0\u00a0\u00a0 M 0W+S T", "KF\u00a0\u00a0\u00a0\u00a0 M 10W+S T", "KF\u00a0\u00a0\u00a0\u00a0 M 20W+S T"], "range": ["#3A87D6", "#FF2020", "#1BA84E"]},
          "legend": {"title": null, "orient": "none", "direction": "horizontal", "legendX": 96, "legendY": 412,
            "labelExpr": "replace(datum.label, 'KF', 'KF\u00a0\u00a0')",
            "symbolType": "stroke", "symbolSize": 1600, "symbolStrokeWidth": 1.5, "labelOffset": 4, "columnPadding": 26, "padding": 0}}
      }
    },
    {
      "data": {"name": "wedges"},
      "mark": {"type": "line", "stroke": "#bfbfbf", "strokeWidth": 1.5},
      "encoding": {
        "x": {"field": "wn", "type": "quantitative"},
        "y": {"field": "t", "type": "quantitative"},
        "detail": {"field": "id"},
        "order": {"field": "k"}
      }
    },
    {
      "data": {"name": "notes"},
      "mark": {"type": "rect", "fill": "white", "stroke": "#bfbfbf", "strokeWidth": 1.5},
      "encoding": {
        "x": {"field": "x1", "type": "quantitative"},
        "x2": {"field": "x2"},
        "y": {"field": "y1", "type": "quantitative"},
        "y2": {"field": "y2"}
      }
    },
    {
      "data": {"name": "notes"},
      "transform": [{"filter": "datum.dir === 'h'"}],
      "mark": {"type": "text", "font": "Lato", "fontSize": 17, "fill": "#404040", "align": "center", "baseline": "middle"},
      "encoding": {
        "x": {"field": "tx", "type": "quantitative"},
        "y": {"field": "ty", "type": "quantitative"},
        "text": {"field": "label"}
      }
    },
    {
      "data": {"name": "notes"},
      "transform": [{"filter": "datum.dir === 'v'"}],
      "mark": {"type": "text", "font": "Lato", "fontSize": 17, "fill": "#404040", "align": "center", "baseline": "middle", "angle": 270},
      "encoding": {
        "x": {"field": "tx", "type": "quantitative"},
        "y": {"field": "ty", "type": "quantitative"},
        "text": {"field": "label"}
      }
    }
  ]
}
